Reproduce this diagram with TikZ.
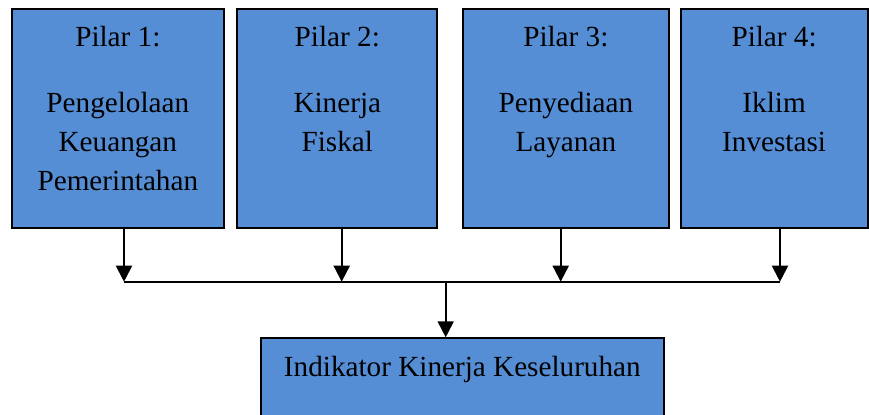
\documentclass[tikz,border=0pt]{standalone}
\usepackage{fontspec}
\setmainfont{Liberation Serif}
\newfontfamily\timesfont{Liberation Serif}
\usetikzlibrary{arrows.meta}
\definecolor{biru}{RGB}{85,142,213}
\newcommand{\isi}[3]{\parbox[c][#1][t]{#2}{\centering\rule{0pt}{18.85pt}#3}}

\begin{document}
\begin{tikzpicture}[x=0.5pt,y=-0.5pt,
	kotak/.style={draw=black,line width=1pt,fill=biru,inner sep=0pt,font=\timesfont\fontsize{14.6}{19.5}\selectfont},
	panah/.style={line width=1pt,-{Triangle[length=8pt,width=8pt]}}]
			\useasboundingbox (0,0) rectangle (869,414);
			\node[kotak,minimum width=106.15pt,minimum height=109.5pt] (p1) at (117.85,118.65) {\isi{109.5pt}{100pt}{Pilar 1:\\[13.5pt]Pengelolaan\\Keuangan\\Pemerintahan}};
			\node[kotak,minimum width=100pt,minimum height=109.5pt] (p2) at (337.3,118.65) {\isi{109.5pt}{95pt}{Pilar 2:\\[13.5pt]Kinerja\\Fiskal}};
			\node[kotak,minimum width=102.85pt,minimum height=109.5pt] (p3) at (565.85,118.65) {\isi{109.5pt}{95pt}{Pilar 3:\\[13.5pt]Penyediaan\\Layanan}};
			\node[kotak,minimum width=93.4pt,minimum height=109.5pt] (p4) at (774.1,118.65) {\isi{109.5pt}{88pt}{Pilar 4:\\[13.5pt]Iklim\\Investasi}};
			\node[kotak,minimum width=201.35pt,minimum height=41pt] (hasil) at (462.35,379.3) {\isi{41pt}{195pt}{Indikator Kinerja Keseluruhan}};
			\coordinate (k1) at (124,281.7);
			\coordinate (k2) at (341.7,281.7);
			\coordinate (k3) at (560.7,281.7);
			\coordinate (k4) at (780,281.7);
			\coordinate (k5) at (445.7,281.7);
			\draw[panah] (p1.south -| k1) -- (k1);
			\draw[panah] (p2.south -| k2) -- (k2);
			\draw[panah] (p3.south -| k3) -- (k3);
			\draw[panah] (p4.south -| k4) -- (k4);
			\draw[line width=0.85pt] (k1) -- (k4);
			\draw[panah] (k5) -- (k5 |- hasil.north);
			\end{tikzpicture}
\end{document}
